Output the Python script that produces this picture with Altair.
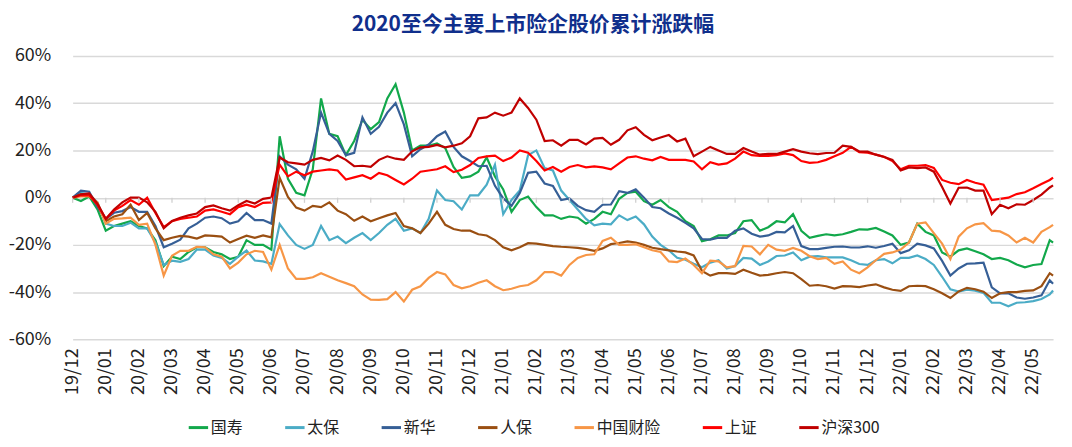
import altair as alt
import pandas as pd

# ---------------- data (percent change since 2019-12-31) ----------------
# x position: months since 19/12 (one point every quarter month), last point 29.6
STEP = 0.25
N_GRID = 119
LAST_T = 29.6

SERIES = ["国寿", "太保", "新华", "人保", "中国财险", "上证", "沪深300"]
COLORS = ["#12A84B", "#4BACC6", "#365F96", "#9A4F12", "#F79646", "#FF0000", "#C00000"]

MONTH_LABELS = ["19/12", "20/01", "20/02", "20/03", "20/04", "20/05", "20/06", "20/07",
                "20/08", "20/09", "20/10", "20/11", "20/12", "21/01", "21/02", "21/03",
                "21/04", "21/05", "21/06", "21/07", "21/08", "21/09", "21/10", "21/11",
                "21/12", "22/01", "22/02", "22/03", "22/04", "22/05"]

guoshou = [0, -1.4, 0.5, -5, -14, -12, -11, -10, -12, -13, -18, -29, -25, -26, -23, -21,
           -21, -23, -24, -26, -25, -18, -20, -20, -22, 26, 8, 2, 1, 12, 42, 27,
           26, 18, 24, 33, 29, 32, 42, 48, 36, 20, 22, 22, 23, 21, 13, 8.4,
           9, 11, 17, 9, 3.5, -6, -1, 0.5, -4, -7.5, -7.5, -9, -8, -8.5, -11, -9,
           -6, -7, -0.5, 2, 2.5, -1.5, -3, -1, -4, -6, -10, -12, -18.5, -17.6, -16, -16,
           -15, -10, -9.5, -14, -12.5, -10, -10.5, -7, -14, -17, -16.2, -15.5, -16, -15.5, -14.5, -13.4,
           -13.5, -12.8, -14.3, -16, -20, -19, -11, -14.5, -16, -23.2, -25, -22.3, -21.5, -22.7, -24, -26,
           -25.5, -26.5, -28.3, -29.5, -28.5, -28.1, -18, -19]

taibao = [0, 2, 1.3, -2, -11, -12, -12, -10.6, -13, -13, -19, -28.5, -26.7, -27.2, -26, -22,
          -22, -24.5, -25.5, -28, -25, -22.4, -26.6, -27, -28, -11.2, -16, -20, -21.7, -20, -12, -18,
          -16.5, -19.3, -17, -15, -18, -15, -11.5, -9, -14, -13, -15, -9, 3, -1, -1.5, -5,
          1, 1, 5.5, 14, -7, -1, 3, 18, 20, 12.5, 11.5, 3, -1, -5, -9, -11.7,
          -11, -11.3, -7.5, -9.5, -8, -11.3, -16.5, -20, -22.3, -25.5, -26.3, -28, -29.5, -27.5, -26.5, -30,
          -29, -25.5, -25.8, -28.5, -27, -24.7, -24.5, -23.2, -26.5, -25, -24.8, -25.3, -25.3, -25.3, -26.5, -28.1,
          -28.5, -26.5, -26, -27.8, -25.5, -25.5, -24.5, -26, -28.5, -33.5, -38.8, -39.8, -39, -39.4, -40.3, -44.5,
          -44.5, -46, -44.5, -44.3, -43.8, -42.9, -41, -39.3]

xinhua = [0, 3, 2.5, -4, -9, -6.4, -5.7, -4, -6, -6, -12, -21, -19.5, -17.8, -13, -11,
          -8.5, -8, -8.7, -11, -10, -6.5, -9.5, -9.5, -11, 17.5, 14, 12, 8, 19.6, 36, 27,
          24, 18, 19, 34, 27, 30, 36, 40, 31, 17.5, 20.5, 22.5, 26, 28, 21.5, 17.5,
          15.5, 13.3, 13.5, 5, -0.3, -3.5, 2, 10.5, 11, 6, 5, -1, -0.3, -3.5, -5.3, -6,
          -3, -2.9, 2.7, 2, 3.5, 0, -4, -4.5, -6.7, -8.5, -10.7, -13, -17.5, -17.8, -17, -17,
          -14, -13, -15.3, -16.5, -16, -14.5, -14.7, -12, -20.5, -21.8, -21.8, -21.3, -20.8, -20.7, -21.1, -21.1,
          -20.6, -21.2, -20.5, -19.5, -23.5, -22.3, -19.5, -20.2, -21.5, -26.8, -33, -30, -28, -27.8, -27.5, -38,
          -40.5, -40.5, -42.3, -42.8, -42.3, -41.4, -35, -36.5]

renbao = [0, 1.4, 1.4, -3, -10, -8, -7, -3, -9.5, -6.5, -13, -18, -17, -16.2, -16.5, -17.3,
          -16, -16.2, -16.5, -19, -17.5, -16.1, -17, -16, -16.8, 8.4, 0.3, -4.2, -5.5, -3.5, -4, -2,
          -5.5, -7, -9.8, -8, -10, -8.7, -7.5, -6.5, -12, -13, -15, -11, -6, -11.5, -13.3, -14,
          -14, -15.5, -16, -18, -21, -22.3, -21, -19.3, -19.5, -20, -20.5, -20.8, -21, -21.3, -21.8, -22.5,
          -21.5, -19.7, -19.2, -18.5, -19, -20, -21.2, -21.8, -22.3, -22.8, -23.2, -24.5, -31, -33, -32, -32,
          -32.3, -30.5, -31.8, -33, -32.7, -32, -31.5, -32, -34.5, -37.3, -37, -37.5, -38.5, -37.5, -37.6, -37.9,
          -37.2, -36.7, -38, -39, -39.5, -37.5, -37.3, -37.5, -38.8, -40.5, -42.5, -39.7, -38.2, -38.8, -39.8, -42.5,
          -40.5, -40, -40, -39.5, -39.3, -37.5, -32, -33]

caixian = [0, 0.5, 0.5, -2, -11, -9, -8.8, -8.5, -11.5, -11, -20, -33, -24.6, -22.5, -22.5, -20.8,
           -21, -24, -25, -30, -27.5, -24, -22.5, -23, -30.5, -20, -30, -34.4, -34.4, -33.7, -32, -33.5,
           -35, -36.2, -37.5, -41, -43.2, -43.3, -43, -40, -44, -39, -37.5, -34, -31.5, -32.5, -37, -38.4,
           -37.5, -36, -35, -37.5, -39.2, -38.6, -37.5, -37, -35, -31.5, -31.5, -33, -28.5, -25.5, -24.3, -24,
           -18.3, -17, -20, -20, -19.7, -21, -22.3, -23, -27, -27.3, -25.8, -28.5, -32, -26.7, -27, -29.5,
           -29, -20.4, -20.7, -24, -20, -22, -22.5, -21.3, -22.5, -24.8, -26, -25.5, -28, -27, -30.5, -32,
           -29.5, -26.5, -23.8, -23.2, -22, -19, -11, -10.5, -15, -19.5, -26, -16.5, -13, -11.3, -10.8, -14,
           -14.3, -16, -19, -17, -19, -14.5, -12.5, -11.5]

shangzheng = [0, 1, 1, -3, -9, -5.5, -3.5, -1, -3, 0, -6.5, -12.5, -10, -9, -8.5, -8,
              -5.5, -5, -6, -7, -4, -3, -4, -2.2, -2, 14, 9, 11, 9.5, 11, 11.5, 12,
              11.5, 7.7, 8.6, 9.5, 8, 10.5, 9.5, 7.5, 5.6, 8, 11, 11.5, 12, 13.3, 10.8, 11.8,
              13.8, 16.8, 17.5, 17.8, 15.5, 17, 20, 19, 15.5, 11.5, 13, 11, 13, 13.8, 12.8, 13.2,
              12.8, 12, 14.5, 17, 17.5, 16.5, 15.8, 17.2, 16, 16, 16, 15.3, 12, 15, 14, 14.5,
              16.5, 19.5, 18, 17.7, 17.7, 18, 18.7, 18, 15.5, 14.7, 15, 16, 17.5, 19, 21.5, 19.3,
              19, 18.2, 17.3, 15.5, 12, 13.5, 13.5, 13.8, 12.6, 7.5, 6.3, 5.7, 7.5, 6.3, 5.5, -1,
              -0.5, 0, 1.5, 2.3, 4, 5.8, 7.5, 8.5]

hs300 = [0, 1.4, 1.8, -2.5, -9, -5, -2, 0, 0, -2, -6, -13, -9.9, -8.5, -7.5, -6.7,
         -4, -3.3, -4.5, -5.5, -3.2, -1.4, -2.5, -0.5, 0, 17, 15, 14.5, 14, 16, 16.8, 15.8,
         17.8, 16, 13.3, 13.5, 13, 16, 17.5, 16.5, 16, 19.6, 21.3, 21.5, 22.3, 21.3, 22, 23,
         26, 33.6, 34, 36, 34.7, 36, 42, 38, 33, 24, 24.3, 22, 24.5, 24.5, 22.5, 25,
         25.3, 22.4, 24.5, 28.5, 29.8, 26.6, 24.3, 25.5, 26.5, 23.8, 25, 17.5, 19.5, 21.5, 20, 18.5,
         18.5, 21, 19.5, 18.2, 18.6, 18.5, 19.5, 20.5, 19.5, 18.8, 18.4, 18.9, 19, 22, 21.5, 19.6,
         19.5, 18.2, 17.2, 16, 11.5, 12.8, 12.5, 12.8, 11, 4.5, -2.5, 4.2, 4.3, 3, 3, -7,
         -3, -4.5, -2.8, -3, -1, 1.3, 4.3, 5.2]

VALUES = [guoshou, taibao, xinhua, renbao, caixian, shangzheng, hs300]

# ---------------- build tables ----------------
t_grid = [i * STEP for i in range(N_GRID)] + [LAST_T]
rows = []
for name, vals in zip(SERIES, VALUES):
    for k, v in enumerate(vals):
        rows.append({"series": name, "t": t_grid[k], "v": v, "ord": k})
df = pd.DataFrame(rows)

months_df = pd.DataFrame({"m": list(range(len(MONTH_LABELS))), "label": MONTH_LABELS})

FONT = "Noto Sans CJK SC"

x_scale = alt.Scale(domain=[0, LAST_T], nice=False, zero=False)
y_scale = alt.Scale(domain=[-60, 60], nice=False)

lines = alt.Chart(df).mark_line(strokeWidth=2.2).encode(
    x=alt.X("t:Q", scale=x_scale, title=None,
            axis=alt.Axis(labels=False, ticks=False, domain=False, grid=False)),
    y=alt.Y("v:Q", scale=y_scale, title=None,
            axis=alt.Axis(values=[-60, -40, -20, 0, 20, 40, 60],
                          labelExpr="datum.value + '%'",
                          labelFontSize=18, labelColor="#222222", labelFont=FONT,
                          labelPadding=22, ticks=False, domain=False,
                          grid=True, gridColor="#d9d9d9", gridWidth=1.5,
                          minExtent=63, maxExtent=63)),
    color=alt.Color("series:N", scale=alt.Scale(domain=SERIES, range=COLORS),
                    sort=SERIES,
                    legend=alt.Legend(title=None, orient="none", direction="horizontal",
                                      legendX=115, legendY=362, padding=0,
                                      labelFontSize=16, labelFont=FONT, labelColor="#222222",
                                      symbolType="stroke", symbolStrokeWidth=3,
                                      symbolSize=380, columnPadding=35, labelOffset=1)),
    order="ord:Q",
    detail="series:N",
)

# small tick marks hanging below the 0% line at each month
zero_ticks = alt.Chart(months_df).mark_rule(color="#d0d0d0", strokeWidth=1.3).encode(
    x=alt.X("m:Q", scale=x_scale),
    y=alt.Y("y0:Q", scale=y_scale),
    y2="y1:Q",
).transform_calculate(y0="0", y1="-2.2")

# month labels under the plot, rotated to read bottom-to-top
month_labels = alt.Chart(months_df).mark_text(
    angle=270, align="right", baseline="middle", dx=-9,
    fontSize=18, font=FONT, color="#222222",
).encode(
    x=alt.X("m:Q", scale=x_scale),
    y=alt.Y("yb:Q", scale=y_scale),
    text="label:N",
).transform_calculate(yb="-60")

chart = alt.layer(lines, zero_ticks, month_labels).properties(
    width=986, height=285,
    padding={"left": 0, "top": 5, "right": 6, "bottom": 2},
    title=alt.Title("2020至今主要上市险企股价累计涨跌幅", fontSize=21, fontWeight="bold",
                    color="#102F8C", font=FONT, anchor="middle", frame="bounds", offset=12),
).configure_view(stroke=None)

chart.save("out.html", embed_options={"renderer": "svg", "actions": False})
